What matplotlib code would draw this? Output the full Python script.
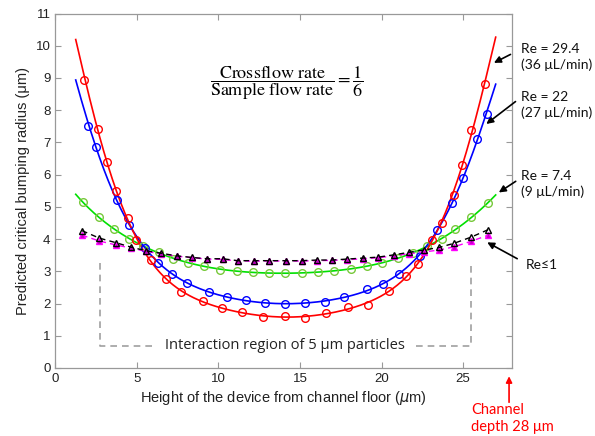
import matplotlib
matplotlib.use('Agg')
import matplotlib.pyplot as plt
import numpy as np

# Re = 29.4 (red)
x_red = [1.76, 2.63, 3.19, 3.72, 4.44, 4.94, 5.86, 6.78, 7.70, 9.03, 10.21, 11.42, 12.71, 14.06,
         15.32, 16.59, 17.93, 19.18, 20.47, 21.51, 22.22, 23.08, 23.68, 24.43, 24.96, 25.47, 26.37]
y_red = [8.94, 7.42, 6.38, 5.50, 4.64, 3.98, 3.35, 2.77, 2.36, 2.08, 1.87, 1.73, 1.59, 1.62,
         1.54, 1.70, 1.89, 1.95, 2.40, 2.87, 3.24, 3.97, 4.49, 5.37, 6.31, 7.37, 8.82]

# Re = 22 (blue)
x_blue = [2.02, 2.52, 3.78, 4.53, 5.51, 6.27, 7.13, 8.09, 9.42, 10.54, 11.67, 12.87, 14.08,
          15.32, 16.51, 17.71, 19.08, 20.10, 21.08, 22.35, 23.41, 24.31, 25.00, 25.88, 26.45]
y_blue = [7.52, 6.86, 5.20, 4.44, 3.73, 3.27, 2.93, 2.64, 2.36, 2.21, 2.10, 2.01, 1.99,
          2.03, 2.04, 2.20, 2.44, 2.61, 2.93, 3.48, 4.28, 5.13, 5.89, 7.11, 7.89]

# Re = 7.4 (green)
x_green = [1.68, 2.70, 3.62, 4.52, 5.40, 6.34, 7.23, 8.13, 9.11, 10.09, 11.12, 12.10, 13.11, 14.09,
           15.12, 16.10, 17.10, 18.10, 19.08, 20.04, 20.98, 21.92, 22.81, 23.71, 24.53, 25.51, 26.53]
y_green = [5.15, 4.67, 4.30, 4.01, 3.79, 3.59, 3.39, 3.26, 3.17, 3.05, 3.00, 2.98, 2.95, 2.95,
           2.94, 2.97, 3.01, 3.07, 3.17, 3.27, 3.40, 3.57, 3.79, 4.00, 4.31, 4.67, 5.13]

# ends of the fitted curves (x, y at left and right end)
x_ends = [1.25, 27.0]
y_red_ends = [10.2, 10.27]
y_blue_ends = [8.94, 8.81]
y_green_ends = [5.39, 5.37]

# Re <= 1 (black and magenta triangles)
x_tri = [1.64, 2.70, 3.70, 4.64, 5.54, 6.48, 7.44, 8.39, 9.31, 10.26, 11.19, 12.16, 13.11, 14.12,
         15.10, 16.02, 16.97, 17.89, 18.84, 19.79, 20.75, 21.69, 22.59, 23.53, 24.45, 25.49, 26.53]
y_black = [4.26, 4.03, 3.89, 3.75, 3.64, 3.56, 3.48, 3.43, 3.39, 3.39, 3.33, 3.33, 3.33, 3.33,
           3.33, 3.35, 3.35, 3.38, 3.41, 3.44, 3.51, 3.59, 3.66, 3.74, 3.87, 4.06, 4.29]
y_mag = [4.12, 3.94, 3.82, 3.72, 3.62, 3.54, 3.47, 3.42, 3.38, 3.37, 3.32, 3.32, 3.32, 3.32,
         3.32, 3.33, 3.34, 3.36, 3.39, 3.42, 3.48, 3.55, 3.60, 3.66, 3.76, 3.93, 4.12]

fig = plt.figure(figsize=(5.95, 4.36), dpi=100)
ax = fig.add_axes([0.093, 0.156, 0.7675, 0.813])

xs = np.linspace(x_ends[0], x_ends[1], 300)
for xd, yd, ye, lc, mc in [(x_green, y_green, y_green_ends, '#00e000', '#77c83a'),
                           (x_blue, y_blue, y_blue_ends, '#0000ff', '#0000ff'),
                           (x_red, y_red, y_red_ends, '#ff0000', '#ff0000')]:
    xf = np.concatenate([xd, x_ends]) - 14
    yf = np.concatenate([yd, ye])
    w = np.ones(len(xf))
    w[-2:] = 3
    c = np.polyfit(xf, yf, 8, w=w)
    ax.plot(xs, np.polyval(c, xs - 14), color=lc, lw=1.2, zorder=3)
    ax.plot(xd, yd, 'o', mfc='none', mec=mc, ms=5.5, mew=1.0, zorder=4)

ax.plot(x_tri, y_mag, '--^', color='#ff00ff', mfc='#c000c0', ms=5, mew=1.0, lw=1.0,
        dashes=(4, 3), zorder=5)
ax.plot(x_tri, y_black, '--^', color='black', mfc='none', ms=5, mew=1.0, lw=1.0,
        dashes=(4, 3), zorder=6)

# interaction region bracket
gc = '#a0a0a0'
ax.plot([2.75, 2.75, 6.2], [3.25, 0.69, 0.69], ls='--', color=gc, lw=1.2, dashes=(4, 3))
ax.plot([22.1, 25.5, 25.5], [0.69, 0.69, 3.25], ls='--', color=gc, lw=1.2, dashes=(4, 3))
ax.text(14.1, 0.69, 'Interaction region of 5 \u03bcm particles', ha='center', va='center',
        fontsize=10.5, family='Open Sans', color='#222222')

ax.text(14.2, 8.85, r'$\dfrac{\mathrm{Crossflow\ rate}}{\mathrm{Sample\ flow\ rate}} = \dfrac{1}{6}$',
        ha='center', va='center', fontsize=13, math_fontfamily='stix')

# right-hand labels
lab_font = dict(fontsize=10, family='Lato', ha='left', va='center', color='#111111')
ax.text(28.55, 9.65, 'Re = 29.4\n(36 \u03bcL/min)', linespacing=1.3, **lab_font)
ax.annotate('', xy=(26.74, 9.43), xytext=(28.06, 9.77), annotation_clip=False,
            arrowprops=dict(arrowstyle='-|>', color='black', lw=1.2, mutation_scale=10))
ax.text(28.55, 8.15, 'Re = 22\n(27 \u03bcL/min)', linespacing=1.3, **lab_font)
ax.annotate('', xy=(26.29, 7.52), xytext=(28.35, 8.32), annotation_clip=False,
            arrowprops=dict(arrowstyle='-|>', color='black', lw=1.2, mutation_scale=10))
ax.text(28.55, 5.7, 'Re = 7.4\n(9 \u03bcL/min)', linespacing=1.3, **lab_font)
ax.annotate('', xy=(27.05, 5.40), xytext=(28.37, 5.84), annotation_clip=False,
            arrowprops=dict(arrowstyle='-|>', color='black', lw=1.2, mutation_scale=10))
ax.text(28.85, 3.2, 'Re\u22641', **lab_font)
ax.annotate('', xy=(26.33, 3.94), xytext=(28.47, 3.35), annotation_clip=False,
            arrowprops=dict(arrowstyle='-|>', color='black', lw=1.2, mutation_scale=10))

# channel depth marker
ax.annotate('', xy=(27.82, -0.17), xytext=(27.82, -1.15), annotation_clip=False,
            arrowprops=dict(arrowstyle='-|>', color='red', lw=1.2, mutation_scale=9))
ax.text(25.5, -1.1, 'Channel\ndepth 28 \u03bcm', color='red', fontsize=10.5, family='Lato',
        ha='left', va='top', linespacing=1.2)

ax.set_xlim(0, 28)
ax.set_ylim(0, 11)
ax.set_xticks([0, 5, 10, 15, 20, 25])
ax.set_yticks(range(12))
ax.tick_params(direction='in', top=True, right=True, length=4, width=0.8, color='#999999',
               labelsize=9.5, labelcolor='#222222')
for t in ax.get_xticklabels() + ax.get_yticklabels():
    t.set_family('Liberation Sans')
for s in ax.spines.values():
    s.set_color('#999999')
    s.set_linewidth(0.9)
ax.set_xlabel(r'Height of the device from channel floor ($\mu$m)', fontsize=10.5,
              family='Liberation Sans', color='#222222', labelpad=3)
ax.set_ylabel('Predicted critical bumping radius (\u03bcm)', fontsize=10.5,
              family='Liberation Sans', color='#222222', labelpad=4)

fig.savefig('out.png', dpi=100)
